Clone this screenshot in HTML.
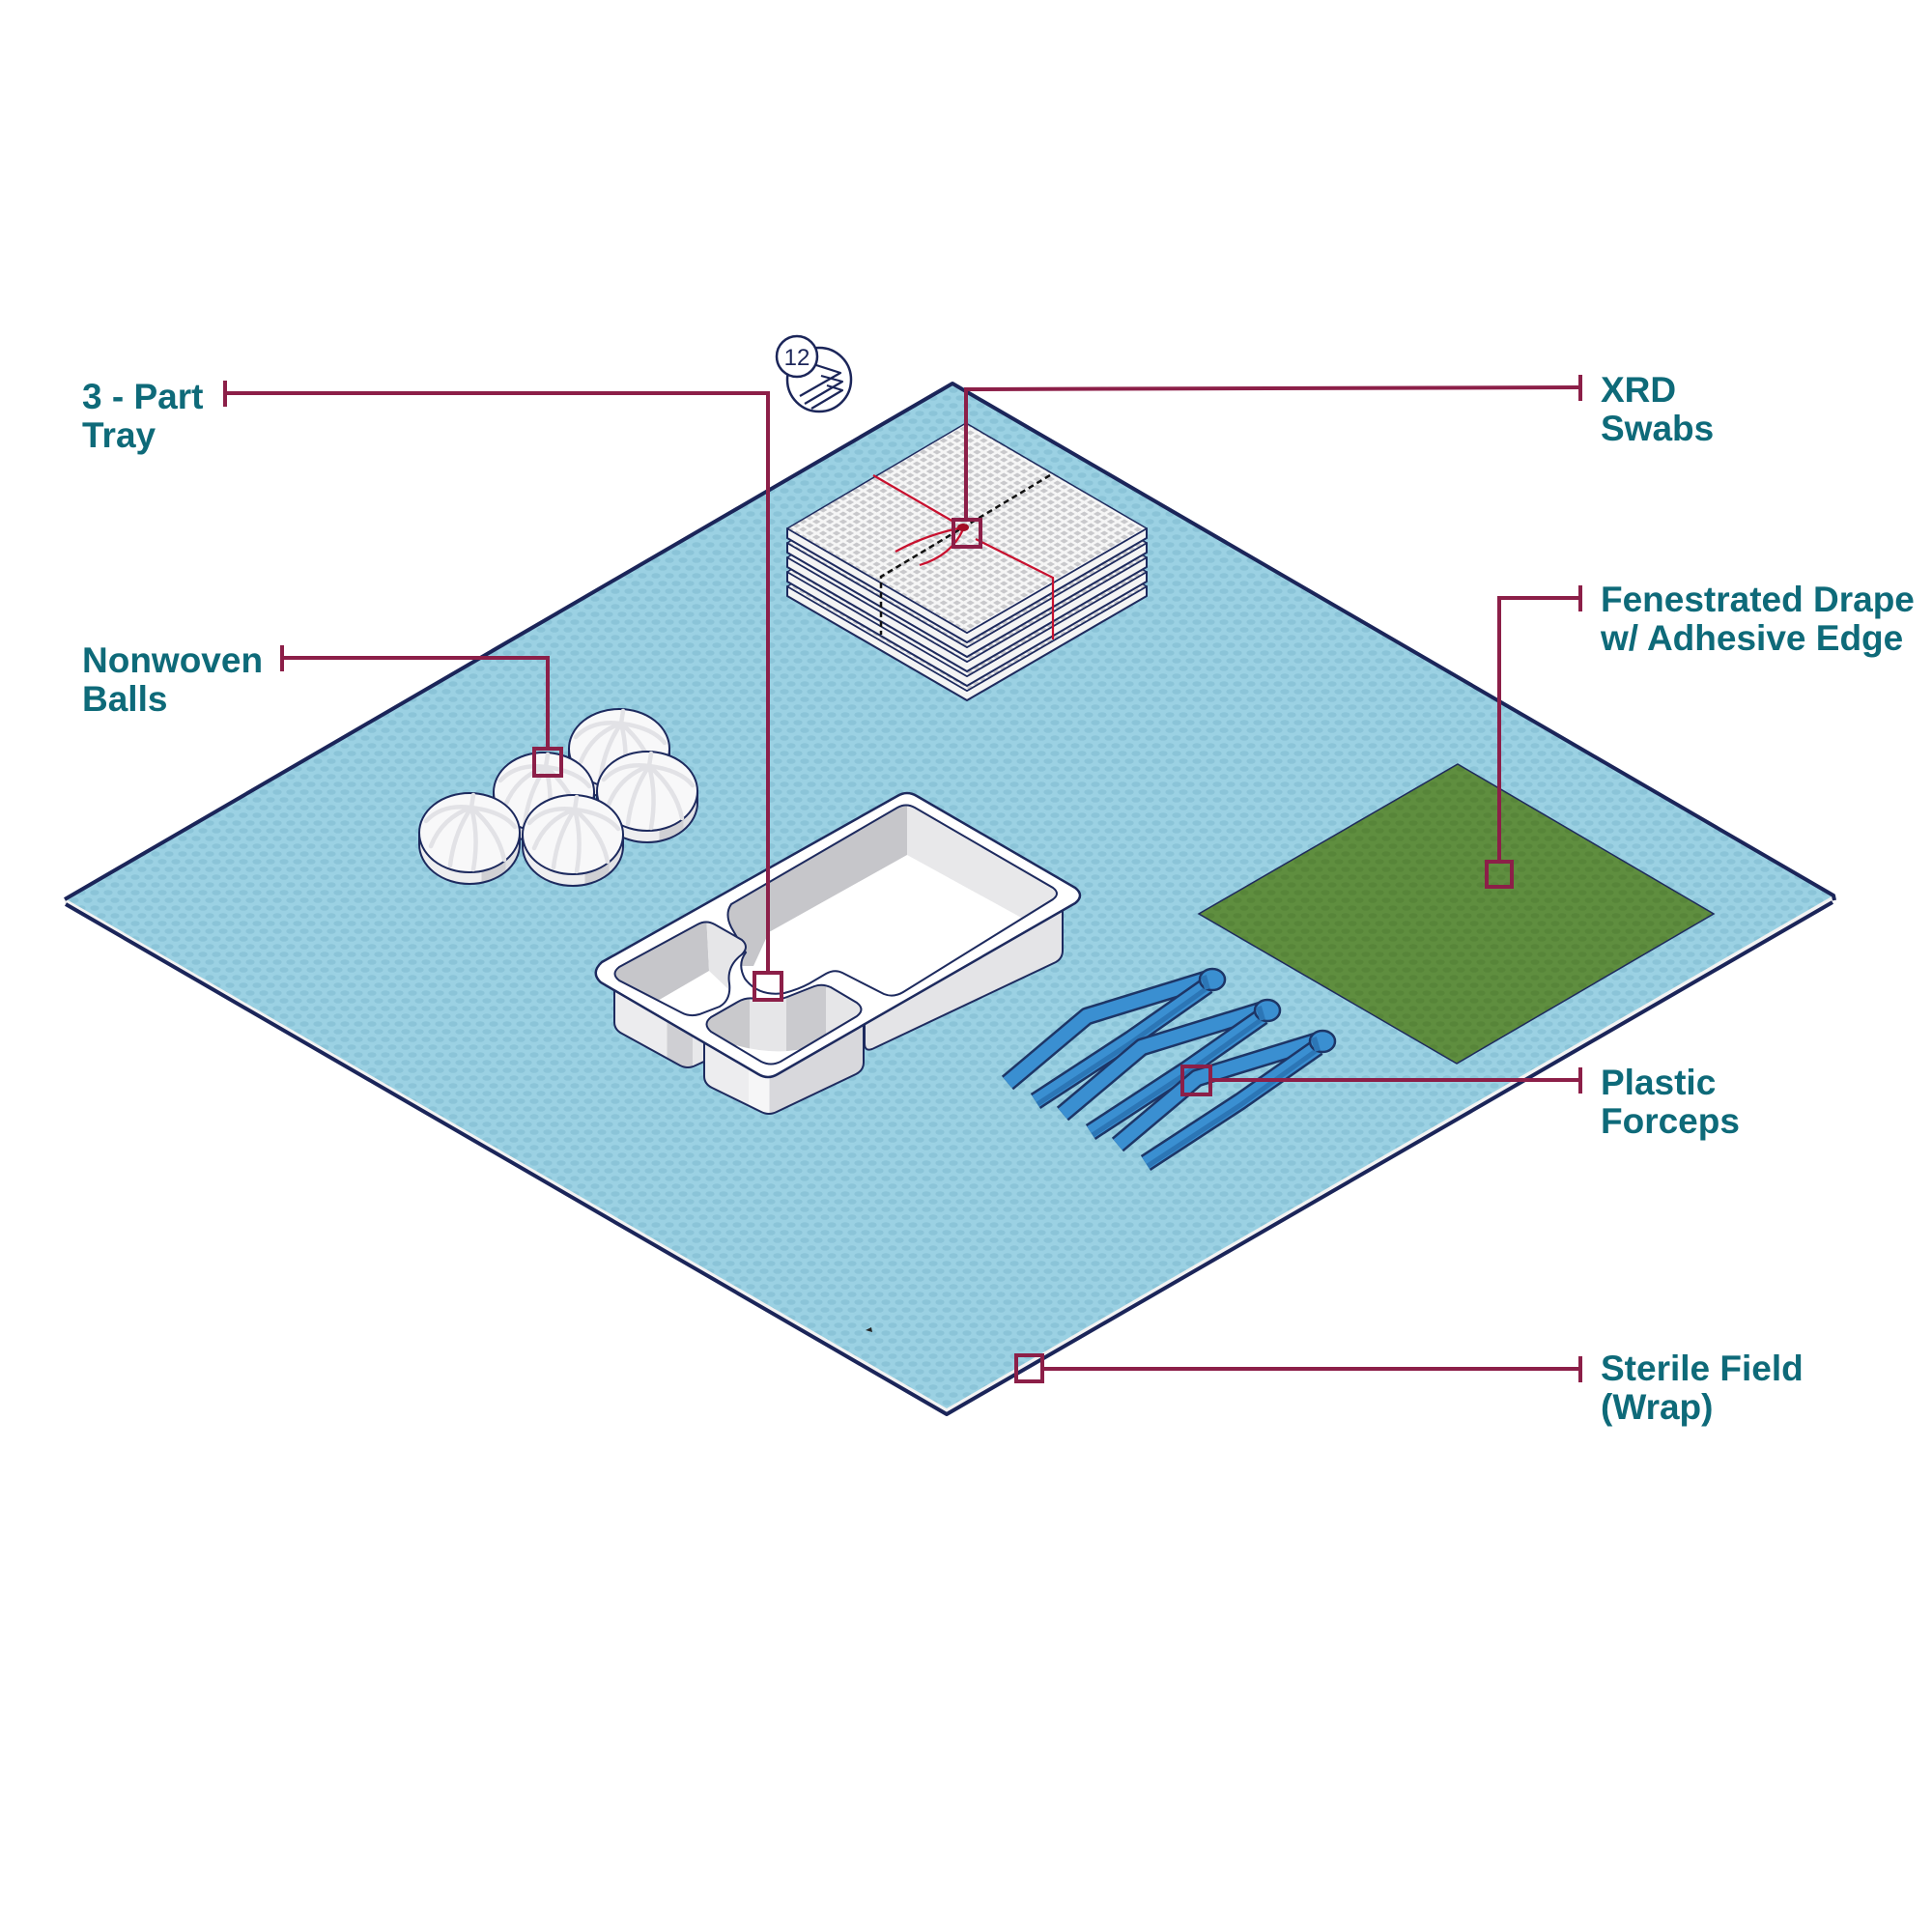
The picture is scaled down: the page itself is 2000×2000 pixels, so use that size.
<!DOCTYPE html>
<html><head><meta charset="utf-8"><style>html,body{margin:0;padding:0;background:#fff}svg{display:block}</style></head>
<body>
<svg width="2000" height="2000" viewBox="0 0 2000 2000" xmlns="http://www.w3.org/2000/svg">
<defs>
  <pattern id="fp" width="14" height="16" patternUnits="userSpaceOnUse">
    <rect width="14" height="16" fill="#9bd1e3"/>
    <ellipse cx="7" cy="4" rx="4.6" ry="2.8" fill="#8bc4d8"/>
    <ellipse cx="0" cy="12" rx="4.6" ry="2.8" fill="#8bc4d8"/>
    <ellipse cx="14" cy="12" rx="4.6" ry="2.8" fill="#8bc4d8"/>
  </pattern>
  <pattern id="gp" width="14" height="16" patternUnits="userSpaceOnUse">
    <rect width="14" height="16" fill="#5f8e3f"/>
    <ellipse cx="7" cy="4" rx="4.6" ry="2.8" fill="#578539"/>
    <ellipse cx="0" cy="12" rx="4.6" ry="2.8" fill="#578539"/>
    <ellipse cx="14" cy="12" rx="4.6" ry="2.8" fill="#578539"/>
  </pattern>
  <pattern id="sw" width="8" height="8" patternUnits="userSpaceOnUse" patternTransform="matrix(0.866,0.5,-0.866,0.5,0,0)">
    <rect width="8" height="8" fill="#f6f6f6"/>
    <rect x="1.5" y="1.5" width="5" height="5" fill="#c9c9cc"/>
  </pattern>
  <linearGradient id="bs" x1="0" y1="0" x2="1" y2="0">
    <stop offset="0" stop-color="#eeeef0"/><stop offset="0.62" stop-color="#eeeef0"/>
    <stop offset="0.62" stop-color="#d0d0d4"/><stop offset="0.86" stop-color="#d0d0d4"/>
    <stop offset="0.86" stop-color="#e2e2e5"/><stop offset="1" stop-color="#e2e2e5"/>
  </linearGradient>
  <linearGradient id="lc" x1="0" y1="0" x2="1" y2="0">
    <stop offset="0" stop-color="#ececee"/><stop offset="0.55" stop-color="#ececee"/>
    <stop offset="0.55" stop-color="#cfcfd3"/><stop offset="0.82" stop-color="#cfcfd3"/>
    <stop offset="0.82" stop-color="#e8e8ea"/><stop offset="1" stop-color="#e8e8ea"/>
  </linearGradient>
  <linearGradient id="fc" x1="0" y1="0" x2="1" y2="0">
    <stop offset="0" stop-color="#ededef"/><stop offset="0.28" stop-color="#ededef"/>
    <stop offset="0.28" stop-color="#f6f6f7"/><stop offset="0.41" stop-color="#f6f6f7"/>
    <stop offset="0.41" stop-color="#d8d8dc"/><stop offset="1" stop-color="#d8d8dc"/>
  </linearGradient>
  <clipPath id="cBig"><path d="M757,936 L929,836 Q938,831 947,836 L1090,919 Q1098,925 1090,931 L935,1027 Q925,1033 915,1029 L872,1007 Q864,1003 855,1008 L838,1018 Q827,1024 812,1028 Q785,1032 771,1013 Q763,998 772,986 L757,960 Q750,946 757,936 Z"/></clipPath>
  <clipPath id="cLeft"><path d="M641,1001 L722,957 Q731,952 740,957 L768,973 Q776,980 768,988 Q752,1000 755,1018 Q757,1035 745,1042 L724,1050 Q714,1053 705,1048 L641,1015 Q632,1008 641,1001 Z"/></clipPath>
  <clipPath id="cFront"><path d="M736,1053 L764,1037 Q773,1032 782,1034 Q800,1038 815,1032 L843,1021 Q851,1018 860,1022 L887,1038 Q896,1045 887,1052 L808,1099 Q798,1104 788,1099 L736,1068 Q727,1060 736,1053 Z"/></clipPath>
  <g id="ball">
    <path d="M-52,0 L-52,12 A52,41 0 0 0 52,12 L52,0 Z" fill="url(#bs)" stroke="#1d2a5e" stroke-width="2"/>
    <ellipse cx="0" cy="0" rx="52" ry="41" fill="#f8f8f9" stroke="#1d2a5e" stroke-width="2"/>
    <g fill="none" stroke="#e2e2e6" stroke-width="4.5" stroke-linecap="round">
      <path d="M2,-26 Q-28,-16 -40,14"/>
      <path d="M2,-26 Q-16,0 -20,34"/>
      <path d="M2,-26 Q10,4 4,38"/>
      <path d="M2,-26 Q30,-2 36,28"/>
      <path d="M2,-26 Q34,-22 47,-6"/>
      <path d="M2,-26 Q-28,-30 -45,-12"/>
      <path d="M2,-26 L4,-39"/>
    </g>
  </g>
  <g id="forc">
    <g fill="none" stroke-linejoin="round">
      <path d="M1255,1012 L1125,1052 L1043,1121" stroke="#1d3566" stroke-width="19"/>
      <path d="M1255,1012 L1125,1052 L1043,1121" stroke="#3a8fd1" stroke-width="14"/>
      <path d="M1250,1020 L1170,1076 L1072,1140" stroke="#1d3566" stroke-width="19"/>
      <path d="M1250,1020 L1170,1076 L1072,1140" stroke="#3a8fd1" stroke-width="14"/>
      <path d="M1248,1024 L1170,1080 L1074,1143" stroke="#2c76b6" stroke-width="5"/>
    </g>
    <ellipse cx="1255" cy="1014" rx="13" ry="11" fill="#3a8fd1" stroke="#1d3566" stroke-width="2.5"/>
    <path d="M1246,1010 L1250,1024" stroke="#2c76b6" stroke-width="6"/>
  </g>
</defs>

<rect width="2000" height="2000" fill="#ffffff"/>

<!-- Sterile field -->
<polygon points="67,930 980,1458 1898,927 1898,933 980,1463 67,936" fill="#f2f2f2"/>
<polyline points="68,936 980,1464 1897,934" fill="none" stroke="#1b2559" stroke-width="4" stroke-linejoin="round"/>
<polygon points="986,397 1898,927 980,1458 67,930" fill="url(#fp)"/>
<polyline points="67,931 986,397 1898,927 1899,932" fill="none" stroke="#1b2559" stroke-width="4" stroke-linejoin="round"/>
<path d="M896,1377 L902,1374 L903,1379 Z" fill="#222"/>

<!-- Drape -->
<polygon points="1509,791 1774,946 1508,1101 1241,946" fill="url(#gp)" stroke="#1e2a5c" stroke-width="1.5"/>

<!-- Swab stack -->
<g stroke="#1d2a5e" stroke-linejoin="round">
  <polygon points="815,607 1001,715 1187,607 1187,617 1001,725 815,617" fill="#f4f4f4" stroke-width="2"/>
  <polygon points="1000,498 1187,607 1001,715 815,607" fill="url(#sw)" stroke-width="1.5"/>
  <polygon points="815,592 1001,700 1187,592 1187,602 1001,710 815,602" fill="#f4f4f4" stroke-width="2"/>
  <polygon points="1000,483 1187,592 1001,700 815,592" fill="url(#sw)" stroke-width="1.5"/>
  <polygon points="815,577 1001,685 1187,577 1187,587 1001,695 815,587" fill="#f4f4f4" stroke-width="2"/>
  <polygon points="1000,468 1187,577 1001,685 815,577" fill="url(#sw)" stroke-width="1.5"/>
  <polygon points="815,562 1001,670 1187,562 1187,572 1001,680 815,572" fill="#f4f4f4" stroke-width="2"/>
  <polygon points="1000,453 1187,562 1001,670 815,562" fill="url(#sw)" stroke-width="1.5"/>
  <polygon points="815,547 1001,655 1187,547 1187,557 1001,665 815,557" fill="#f4f4f4" stroke-width="2"/>
  <polygon points="1000,438 1187,547 1001,655 815,547" fill="url(#sw)" stroke-width="1.5"/>
</g>
<path d="M1087,492 L912,597 L912,657" fill="none" stroke="#111" stroke-width="2.5" stroke-dasharray="6 4"/>
<g fill="none" stroke="#c8102e" stroke-width="2.2">
  <path d="M904,492 L987,540"/>
  <path d="M1010,558 L1090,598 L1090,662"/>
  <path d="M997,546 Q960,553 927,571"/>
  <path d="M997,548 Q985,575 952,585"/>
</g>
<ellipse cx="997" cy="546" rx="6" ry="4" fill="#a30d25"/>

<!-- Balls -->
<use href="#ball" transform="translate(641,775)"/>
<use href="#ball" transform="translate(563,820)"/>
<use href="#ball" transform="translate(670,819)"/>
<use href="#ball" transform="translate(486,862)"/>
<use href="#ball" transform="translate(593,864)"/>

<!-- Tray bodies -->
<path d="M895,1050 L1100,932 L1100,984 Q1100,992 1093,996 L905,1085 Q895,1090 895,1080 Z" fill="#e4e4e7" stroke="#1d2a5e" stroke-width="2"/>
<path d="M636,1012 L636,1058 Q636,1066 644,1070 L704,1103 Q712,1107 720,1103 L735,1096 L735,1060 Z" fill="url(#lc)" stroke="#1d2a5e" stroke-width="2"/>
<path d="M729,1060 L729,1114 Q729,1122 737,1126 L788,1151 Q796,1155 804,1151 L886,1112 Q894,1108 894,1100 L894,1048 Z" fill="url(#fc)" stroke="#1d2a5e" stroke-width="2"/>
<!-- Rim -->
<path d="M623,996 L929,824 Q939,818 949,824 L1113,919 Q1123,927 1113,935 L805,1112 Q795,1118 785,1112 L622,1017 Q611,1007 623,996 Z" fill="#ffffff" stroke="#1d2a5e" stroke-width="2.5"/>
<!-- Big compartment -->
<g clip-path="url(#cBig)">
  <rect x="740" y="820" width="380" height="220" fill="#ffffff"/>
  <polygon points="740,930 939,820 939,885 796,965 780,1000 740,1000" fill="#c6c6ca"/>
  <polygon points="939,820 1110,920 1061,952 939,885" fill="#e8e8ea"/>
</g>
<path d="M757,936 L929,836 Q938,831 947,836 L1090,919 Q1098,925 1090,931 L935,1027 Q925,1033 915,1029 L872,1007 Q864,1003 855,1008 L838,1018 Q827,1024 812,1028 Q785,1032 771,1013 Q763,998 772,986 L757,960 Q750,946 757,936 Z" fill="none" stroke="#1d2a5e" stroke-width="2"/>
<!-- Left compartment -->
<g clip-path="url(#cLeft)">
  <rect x="625" y="945" width="160" height="115" fill="#ffffff"/>
  <polygon points="630,995 731,945 734,1005 679,1037 630,1030" fill="#c6c6ca"/>
  <polygon points="731,945 780,975 780,1010 755,1025 734,1005" fill="#e6e6e8"/>
</g>
<path d="M641,1001 L722,957 Q731,952 740,957 L768,973 Q776,980 768,988 Q752,1000 755,1018 Q757,1035 745,1042 L724,1050 Q714,1053 705,1048 L641,1015 Q632,1008 641,1001 Z" fill="none" stroke="#1d2a5e" stroke-width="2"/>
<!-- Front compartment -->
<g clip-path="url(#cFront)">
  <rect x="720" y="1010" width="190" height="110" fill="#e6e6e8"/>
  <rect x="725" y="1010" width="51" height="110" fill="#c9c9cc"/>
  <rect x="814" y="1010" width="41" height="110" fill="#cacace"/>
  <path d="M740,1075 Q790,1094 830,1086 L880,1058 L900,1058 L900,1120 L740,1120 Z" fill="#ffffff"/>
</g>
<path d="M736,1053 L764,1037 Q773,1032 782,1034 Q800,1038 815,1032 L843,1021 Q851,1018 860,1022 L887,1038 Q896,1045 887,1052 L808,1099 Q798,1104 788,1099 L736,1068 Q727,1060 736,1053 Z" fill="none" stroke="#1d2a5e" stroke-width="2"/>

<!-- Forceps -->
<use href="#forc"/>
<use href="#forc" transform="translate(57,32)"/>
<use href="#forc" transform="translate(114,64)"/>

<!-- Icon 12 -->
<circle cx="848" cy="393" r="33" fill="#ffffff" stroke="#1b2559" stroke-width="2.5"/>
<g fill="none" stroke="#1b2559" stroke-width="2.2" stroke-linejoin="round">
  <path d="M845,378 L870,386 L828,410"/>
  <path d="M850,389 L872,395 L833,418"/>
  <path d="M856,399 L872,404 L840,423"/>
</g>
<circle cx="825" cy="369" r="21" fill="#ffffff" stroke="#1b2559" stroke-width="2.5"/>
<text x="825" y="378" text-anchor="middle" font-family="Liberation Sans, sans-serif" font-size="24" fill="#1b2559">12</text>

<!-- Leader lines -->
<g fill="none" stroke="#8c1f48" stroke-width="4">
  <path d="M233,407 L795,407 L795,1007"/>
  <path d="M233,394 L233,421"/>
  <rect x="781" y="1007" width="28" height="28"/>

  <path d="M292,681 L567,681 L567,775"/>
  <path d="M292,668 L292,695"/>
  <rect x="553" y="775" width="28" height="28"/>

  <path d="M1636,401 L1000,403 L1000,538"/>
  <path d="M1636,388 L1636,415"/>
  <rect x="987" y="538" width="28" height="28"/>

  <path d="M1636,619 L1552,619 L1552,892"/>
  <path d="M1636,606 L1636,633"/>
  <rect x="1539" y="892" width="26" height="26"/>

  <path d="M1636,1118 L1253,1118"/>
  <path d="M1636,1105 L1636,1132"/>
  <rect x="1224" y="1104" width="29" height="29"/>

  <path d="M1636,1417 L1079,1417"/>
  <path d="M1636,1404 L1636,1431"/>
  <rect x="1052" y="1403" width="27" height="27"/>
</g>

<!-- Labels -->
<g font-family="Liberation Sans, sans-serif" font-weight="bold" font-size="37" fill="#0e6a79">
  <text x="85" y="423">3 - Part</text>
  <text x="85" y="463">Tray</text>
  <text x="85" y="696">Nonwoven</text>
  <text x="85" y="736">Balls</text>
  <text x="1657" y="416">XRD</text>
  <text x="1657" y="456">Swabs</text>
  <text x="1657" y="633">Fenestrated Drape</text>
  <text x="1657" y="673">w/ Adhesive Edge</text>
  <text x="1657" y="1133">Plastic</text>
  <text x="1657" y="1173">Forceps</text>
  <text x="1657" y="1429">Sterile Field</text>
  <text x="1657" y="1469">(Wrap)</text>
</g>
</svg>
</body></html>
